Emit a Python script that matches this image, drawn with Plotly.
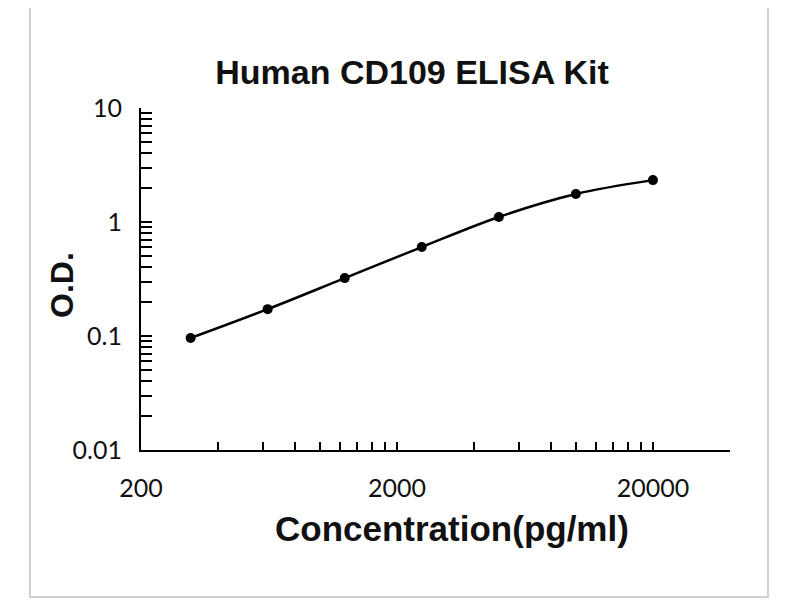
import numpy as np
import plotly.graph_objects as go

# standard curve
concentration = [312.5, 625, 1250, 2500, 5000, 10000, 20000]
od = [0.096, 0.172, 0.322, 0.603, 1.106, 1.76, 2.33]

# tick positions (major ones get a label, the rest stay blank)
x_major = [200, 2000, 20000]
x_minor = [400, 600, 800, 1000, 1200, 1400, 1600, 1800,
           4000, 6000, 8000, 10000, 12000, 14000, 16000, 18000, 40000]
y_major = [0.01, 0.1, 1, 10]
y_major_text = ["0.01", "0.1", "1", "10"]
y_minor = [0.02, 0.03, 0.04, 0.05, 0.06, 0.07, 0.08, 0.09,
           0.2, 0.3, 0.4, 0.5, 0.6, 0.7, 0.8, 0.9,
           2, 3, 4, 5, 6, 7, 8, 9]

x_ticks = x_major + x_minor
x_text = [str(v) for v in x_major] + [""] * len(x_minor)
y_ticks = y_major + y_minor
y_text = y_major_text + [""] * len(y_minor)

fig = go.Figure()

fig.add_trace(go.Scatter(
    x=concentration,
    y=od,
    mode="lines+markers",
    line=dict(color="black", width=2.5, shape="spline"),
    marker=dict(color="black", size=10),
    showlegend=False
))

tick_font = dict(family="Lato, Open Sans, sans-serif", size=25, color="#111111")
bold_font = "Liberation Sans, Arial, sans-serif"

# the page puts the figure 8px in from the corner, so margins are 8px smaller
fig.update_layout(
    width=800,
    height=600,
    plot_bgcolor="white",
    paper_bgcolor="white",
    margin=dict(l=133, r=78, t=100, b=158),
    title=dict(
        text="<b>Human CD109 ELISA Kit</b>",
        x=404 / 800, y=1 - 64 / 600, xanchor="center", yanchor="middle",
        font=dict(family=bold_font, size=34, color="#111111")
    ),
    xaxis=dict(
        type="log",
        range=[np.log10(200), np.log10(40000)],
        tickmode="array",
        tickvals=x_ticks,
        ticktext=x_text,
        ticks="inside",
        ticklen=8,
        tickwidth=2,
        tickcolor="black",
        ticklabelstandoff=15,
        showline=True,
        linecolor="black",
        linewidth=2,
        showgrid=False,
        zeroline=False,
        tickfont=tick_font
    ),
    yaxis=dict(
        type="log",
        range=[-2, 1],
        tickmode="array",
        tickvals=y_ticks,
        ticktext=y_text,
        ticks="inside",
        ticklen=11,
        tickwidth=2,
        tickcolor="black",
        ticklabelstandoff=12,
        showline=True,
        linecolor="black",
        linewidth=2,
        showgrid=False,
        zeroline=False,
        tickfont=tick_font
    ),
)

# axis titles placed by hand like the original
fig.add_annotation(
    text="<b>O.D.</b>", xref="paper", yref="paper",
    x=(62 - 141) / 589, y=(450 - 285) / 342,
    textangle=-90, showarrow=False,
    xanchor="center", yanchor="middle",
    font=dict(family=bold_font, size=32, color="#111111")
)
fig.add_annotation(
    text="<b>Concentration(pg/ml)</b>", xref="paper", yref="paper",
    x=(452 - 141) / 589, y=(450 - 528) / 342,
    showarrow=False, xanchor="center", yanchor="middle",
    font=dict(family=bold_font, size=35, color="#111111")
)

# light grey frame round the whole picture
fig.add_shape(
    type="rect", xref="paper", yref="paper",
    x0=(30 - 141) / 589, x1=(768 - 141) / 589,
    y0=(450 - 597) / 342, y1=(450 - 2) / 342,
    line=dict(color="#d0d0d0", width=2), layer="below"
)

fig.write_html("out.html")
